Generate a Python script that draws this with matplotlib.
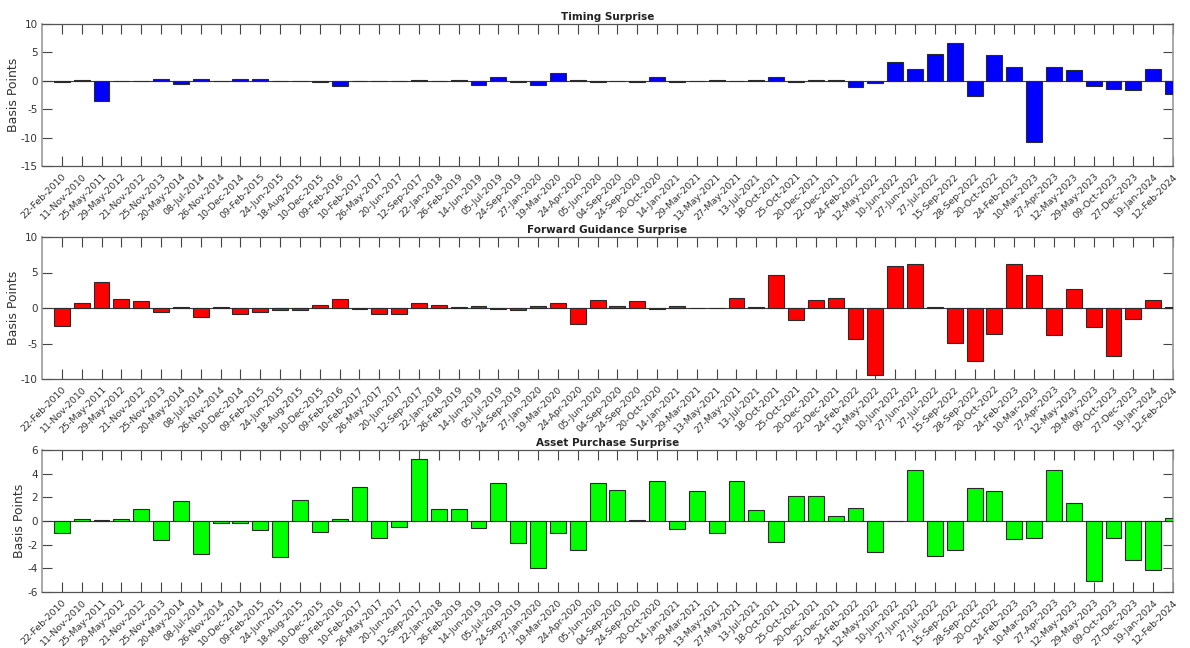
import numpy as np
import matplotlib
matplotlib.use("Agg")
import matplotlib.pyplot as plt

dates = [
    "22-Feb-2010", "11-Nov-2010", "25-May-2011", "29-May-2012", "21-Nov-2012",
    "25-Nov-2013", "20-May-2014", "08-Jul-2014", "26-Nov-2014", "10-Dec-2014",
    "09-Feb-2015", "24-Jun-2015", "18-Aug-2015", "10-Dec-2015", "09-Feb-2016",
    "10-Feb-2017", "26-May-2017", "20-Jun-2017", "12-Sep-2017", "22-Jan-2018",
    "26-Feb-2019", "14-Jun-2019", "05-Jul-2019", "24-Sep-2019", "27-Jan-2020",
    "19-Mar-2020", "24-Apr-2020", "05-Jun-2020", "04-Sep-2020", "24-Sep-2020",
    "20-Oct-2020", "14-Jan-2021", "29-Mar-2021", "13-May-2021", "27-May-2021",
    "13-Jul-2021", "18-Oct-2021", "25-Oct-2021", "20-Dec-2021", "22-Dec-2021",
    "24-Feb-2022", "12-May-2022", "10-Jun-2022", "27-Jun-2022", "27-Jul-2022",
    "15-Sep-2022", "28-Sep-2022", "20-Oct-2022", "24-Feb-2023", "10-Mar-2023",
    "27-Apr-2023", "12-May-2023", "29-May-2023", "09-Oct-2023", "27-Dec-2023",
    "19-Jan-2024", "12-Feb-2024",
]

timing = [
    -0.15, 0.2, -3.5, -0.1, -0.1, 0.3, -0.6, 0.4, -0.1, 0.3,
    0.4, 0.0, 0.0, -0.25, -0.85, 0.0, -0.1, 0.0, 0.2, 0.0,
    0.1, -0.75, 0.75, -0.25, -0.7, 1.35, 0.2, -0.25, 0.0, -0.2,
    0.65, -0.25, 0.0, 0.1, 0.0, 0.1, 0.7, -0.2, 0.1, 0.2,
    -1.15, -0.4, 3.25, 2.15, 4.8, 6.65, -2.7, 4.5, 2.5, -10.75,
    2.4, 1.85, -0.85, -1.4, -1.6, 2.1, -2.4,
]

forward_guidance = [
    -2.5, 0.65, 3.6, 1.25, 1.0, -0.5, 0.2, -1.2, 0.15, -0.8,
    -0.6, -0.35, -0.3, 0.4, 1.2, -0.2, -0.9, -0.9, 0.7, 0.4,
    0.2, 0.3, -0.1, -0.3, 0.3, 0.75, -2.25, 1.1, 0.3, 0.95,
    -0.1, 0.3, 0.0, 0.0, 1.45, 0.1, 4.7, -1.7, 1.1, 1.35,
    -4.35, -9.4, 5.95, 6.2, 0.2, -4.9, -7.45, -3.65, 6.2, 4.7,
    -3.85, 2.7, -2.7, -6.8, -1.5, 1.1, 0.1,
]

asset_purchase = [
    -1.05, 0.15, 0.05, 0.2, 1.0, -1.6, 1.65, -2.8, -0.2, -0.2,
    -0.75, -3.0, 1.8, -0.95, 0.15, 2.9, -1.4, -0.5, 5.25, 1.0,
    1.0, -0.6, 3.2, -1.9, -4.0, -1.0, -2.45, 3.2, 2.6, 0.05,
    3.4, -0.65, 2.55, -1.05, 3.4, 0.95, -1.75, 2.15, 2.15, 0.45,
    1.1, -2.6, 0.0, 4.35, -2.95, -2.45, 2.8, 2.55, -1.55, -1.45,
    4.3, 1.55, -5.05, -1.4, -3.3, -4.1, 0.25,
]

panels = [
    ("Timing Surprise", timing, "#0000ff", (-15, 10), [-15, -10, -5, 0, 5, 10]),
    ("Forward Guidance Surprise", forward_guidance, "#ff0000", (-10, 10), [-10, -5, 0, 5, 10]),
    ("Asset Purchase Surprise", asset_purchase, "#00ff00", (-6, 6), [-6, -4, -2, 0, 2, 4, 6]),
]

W, H = 1190, 648
fig = plt.figure(figsize=(W / 100, H / 100), dpi=100)
plt.rcParams["font.family"] = "DejaVu Sans"

# axes boxes in pixel coordinates: (left, top, right, bottom)
boxes = [(42, 24, 1173, 166), (42, 237, 1173, 379), (42, 450, 1173, 592)]
# horizontal pixel position of each y-axis label anchor
ylabel_x = [20, 20, 26]

x = np.arange(1, len(dates) + 1)
tick_len = 7.0

for (title, vals, color, ylim, yt), (l, t, r, b), lx in zip(panels, boxes, ylabel_x):
    ax = fig.add_axes([l / W, 1 - b / H, (r - l) / W, (b - t) / H])
    ax.bar(x, vals, width=0.8, color=color, edgecolor="#2a2a2a",
           linewidth=0.8, zorder=3)
    ax.axhline(0, color="#3a3a3a", linewidth=0.8, zorder=2)
    ax.set_xlim(0, len(dates))
    ax.set_ylim(*ylim)
    ax.set_yticks(yt)
    ax.set_yticklabels([str(v) for v in yt], fontsize=7.5, color="#333333")
    ax.set_xticks(x)
    ax.set_xticklabels(dates, rotation=45, ha="right", va="top",
                       rotation_mode="anchor", fontsize=6.8, color="#333333")
    ax.tick_params(axis="both", direction="in", length=tick_len, width=0.8,
                   color="#444444", top=True, right=True)
    ax.tick_params(axis="x", pad=4)
    ax.tick_params(axis="y", pad=3)
    for side in ("top", "bottom"):
        ax.spines[side].set_color("#555555")
        ax.spines[side].set_linewidth(0.9)
    for side in ("left", "right"):
        ax.spines[side].set_color("#9a9a9a")
        ax.spines[side].set_linewidth(1.2)
    ax.set_ylabel("Basis Points", fontsize=9, color="#333333")
    ax.yaxis.set_label_coords((lx - l) / (r - l), 0.5)
    ax.set_title(title, fontsize=7.5, fontweight="bold", color="#222222", pad=3)

fig.savefig("out.png", dpi=100, facecolor="white")
